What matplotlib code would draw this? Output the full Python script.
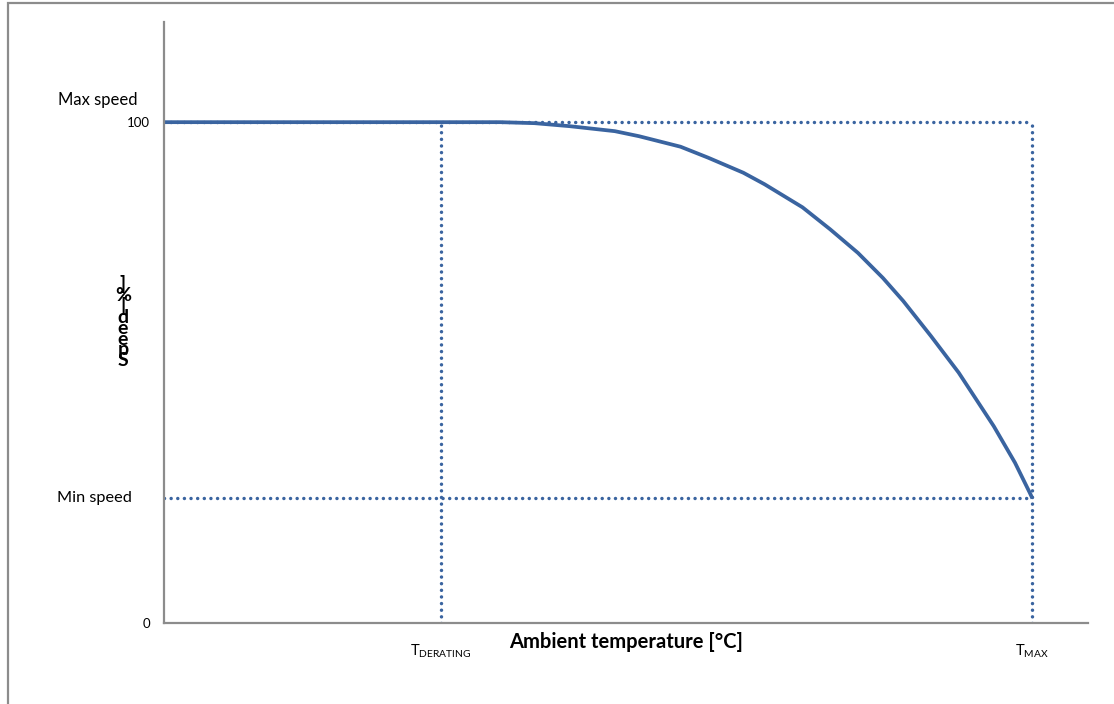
import matplotlib
matplotlib.use('agg')
import matplotlib.pyplot as plt
from matplotlib.patches import Rectangle

plt.rcParams['font.family'] = ['Lato', 'DejaVu Sans']

# speed curve (x on a 0..100 scale of the axis, y in % of max speed)
curve_x = [0, 36.4, 40.1, 43.9, 48.8, 51.4, 55.9, 58.9, 62.7, 65.0, 69.1, 72.1,
           75.1, 77.8, 80.0, 83.0, 86.0, 89.8, 92.1, 93.7, 93.9]
curve_y = [100, 100, 99.8, 99.2, 98.2, 97.2, 95.1, 92.9, 89.9, 87.6, 83.0, 78.6,
           73.9, 68.9, 64.3, 57.3, 50.0, 39.3, 32.0, 26.0, 25.2]

t_derating = 30.0
t_max = 93.9
max_speed = 100
min_speed = 25
ytick_vals = [0, 100]
ytick_labels = ['0', '100']
ylabel_text = 'Speed [%]'

blue = '#3A64A0'
grey = '#8C8C8C'

fig = plt.figure(figsize=(11.14, 7.04), dpi=100)
# outer chart frame (right and bottom edges fall outside the image)
fig.patches.append(Rectangle((8/1114, -0.1), 1.2, 1.1 - 3.5/704, transform=fig.transFigure,
                             fill=False, edgecolor=grey, linewidth=1.6))

ax = fig.add_axes([164/1114, 1 - 623/704, 924/1114, 601/704])
ax.set_xlim(0, 100)
ax.set_ylim(0, 120)

# dotted guide lines
dot = dict(color=blue, linewidth=2.5, linestyle=(0, (0.01, 1.9)), dash_capstyle='round')
ax.plot([0, t_max], [max_speed, max_speed], **dot)
ax.plot([0, t_max], [min_speed, min_speed], **dot)
ax.plot([t_derating, t_derating], [0, max_speed], **dot)
ax.plot([t_max, t_max], [0, max_speed], **dot)

ax.plot(curve_x, curve_y, color=blue, linewidth=2.7, solid_joinstyle='round')

for s in ['top', 'right']:
    ax.spines[s].set_visible(False)
for s in ['left', 'bottom']:
    ax.spines[s].set_color(grey)
    ax.spines[s].set_linewidth(1.6)

ax.set_yticks(ytick_vals)
ax.set_yticklabels(ytick_labels, fontsize=9.5)
ax.tick_params(axis='y', length=0, pad=10)
ax.set_xticks([t_derating, t_max])
ax.set_xticklabels([r'$\mathregular{T_{DERATING}}$', r'$\mathregular{T_{MAX}}$'], fontsize=10.5)
ax.tick_params(axis='x', length=0, pad=14)

ax.text(-0.0285, max_speed + 4.4, 'Max speed', transform=ax.get_yaxis_transform(),
        ha='right', va='center', fontsize=12)
ax.text(-0.035, min_speed, 'Min speed', transform=ax.get_yaxis_transform(),
        ha='right', va='center', fontsize=11.7)

ax.text(0.5, -0.031, 'Ambient temperature [°C]', transform=ax.transAxes,
        ha='center', va='center', fontsize=14.5, fontweight='bold')

# the y label shows up as upright glyphs stacked bottom-to-top in the source
stacked = '\n'.join(reversed(ylabel_text.replace(' ', '')))
fig.text(123/1114, 1 - 322/704, stacked, ha='center', va='center', ma='center',
         fontsize=14, fontweight='bold', linespacing=0.56)

fig.savefig('out.png', dpi=100)
